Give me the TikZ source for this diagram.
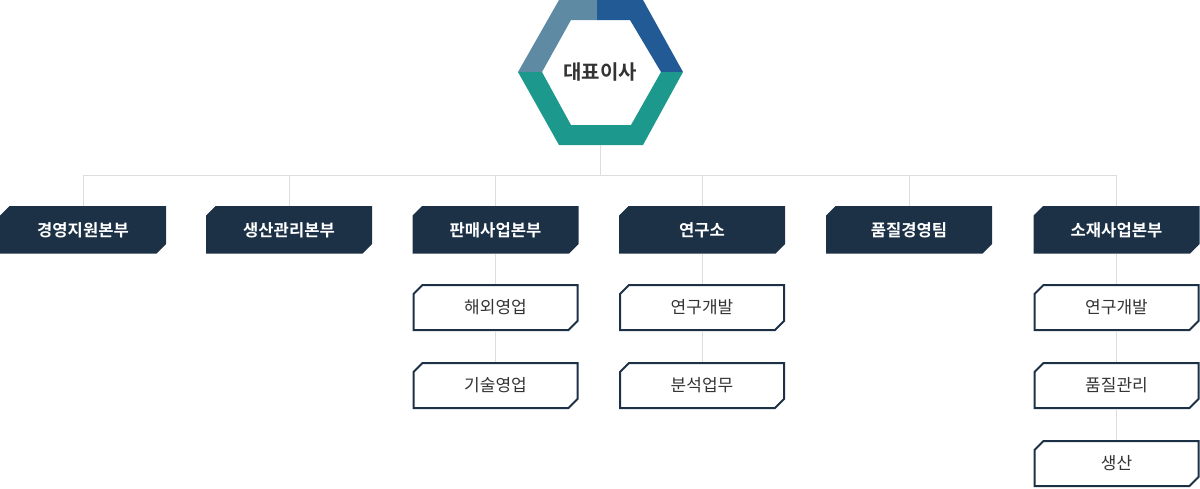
\documentclass[tikz,border=0pt]{standalone}
\usepackage{fontspec}
\newfontfamily\kr{Noto Sans CJK KR}
\newfontfamily\krb{Noto Sans CJK KR Bold}
\definecolor{navy}{HTML}{1C3046}
\definecolor{hexgray}{HTML}{5F8AA3}
\definecolor{hexblue}{HTML}{225A96}
\definecolor{hexteal}{HTML}{1C998C}
\definecolor{linegray}{HTML}{DDDDDD}
\definecolor{txt}{HTML}{333333}
\tikzset{
  x=1pt, y=-1pt,
  conn/.style={draw=linegray, line width=1pt},
  dbox/.style={minimum width=166pt, minimum height=47.5pt, inner sep=0pt, text=white,
    font=\krb\fontsize{16.6}{19}\selectfont,
    path picture={\fill[navy]
      ([xshift=9.5pt]path picture bounding box.north west) --
      (path picture bounding box.north east) --
      ([yshift=9.5pt]path picture bounding box.south east) --
      ([xshift=-9.5pt]path picture bounding box.south east) --
      (path picture bounding box.south west) --
      ([yshift=-9.5pt]path picture bounding box.north west) -- cycle;}},
  sbox/.style={minimum width=166pt, minimum height=47pt, inner sep=0pt, text=txt,
    font=\kr\fontsize{17}{20}\selectfont,
    path picture={\draw[navy, line width=2pt, line join=miter]
      ([xshift=10pt,yshift=-1pt]path picture bounding box.north west) --
      ([xshift=-1pt,yshift=-1pt]path picture bounding box.north east) --
      ([xshift=-1pt,yshift=10pt]path picture bounding box.south east) --
      ([xshift=-10pt,yshift=1pt]path picture bounding box.south east) --
      ([xshift=1pt,yshift=1pt]path picture bounding box.south west) --
      ([xshift=1pt,yshift=-10pt]path picture bounding box.north west) -- cycle;}}
}
\begin{document}
\begin{tikzpicture}
\useasboundingbox (0,0) rectangle (1200,488);
% hexagon
\fill[hexgray] (518,72) -- (559,0) -- (597,0) -- (597,20) -- (571,20) -- (542,72) -- cycle;
\fill[hexblue] (597,0) -- (643,0) -- (683,72) -- (661,72) -- (630,20) -- (597,20) -- cycle;
\fill[hexteal] (518,72) -- (542,72) -- (571,125) -- (631,125) -- (661,72) -- (683,72) -- (643,145) -- (559,145) -- cycle;
\node[font=\krb\fontsize{20}{24}\selectfont, text=txt] (ceo) at (600,72) {대표이사};
\coordinate (hexb) at (600,145);
\coordinate (bus) at (600,175);

% level-1 boxes
\node[dbox] (d1) at (83,229.8) {경영지원본부};
\node[dbox] (d2) at (289,229.8) {생산관리본부};
\node[dbox] (d3) at (495.5,229.8) {판매사업본부};
\node[dbox] (d4) at (702,229.8) {연구소};
\node[dbox] (d5) at (909,229.8) {품질경영팀};
\node[dbox] (d6) at (1116.5,229.8) {소재사업본부};

% sub boxes
\node[sbox] (s31) at (495.5,307.5) {해외영업};
\node[sbox] (s32) at (495.5,385.5) {기술영업};
\node[sbox] (s41) at (702,307.5) {연구개발};
\node[sbox] (s42) at (702,385.5) {분석업무};
\node[sbox] (s61) at (1116.5,307.5) {연구개발};
\node[sbox] (s62) at (1116.5,385.5) {품질관리};
\node[sbox] (s63) at (1116.5,463.5) {생산};

% connectors
\draw[conn] (hexb) -- (bus);
\foreach \d in {d1,d2,d3,d4,d5,d6} \draw[conn] (bus) -| (\d.north);
\draw[conn] (d3.south) -- (s31.north);
\draw[conn] (s31.south) -- (s32.north);
\draw[conn] (d4.south) -- (s41.north);
\draw[conn] (s41.south) -- (s42.north);
\draw[conn] (d6.south) -- (s61.north);
\draw[conn] (s61.south) -- (s62.north);
\draw[conn] (s62.south) -- (s63.north);
\end{tikzpicture}
\end{document}
